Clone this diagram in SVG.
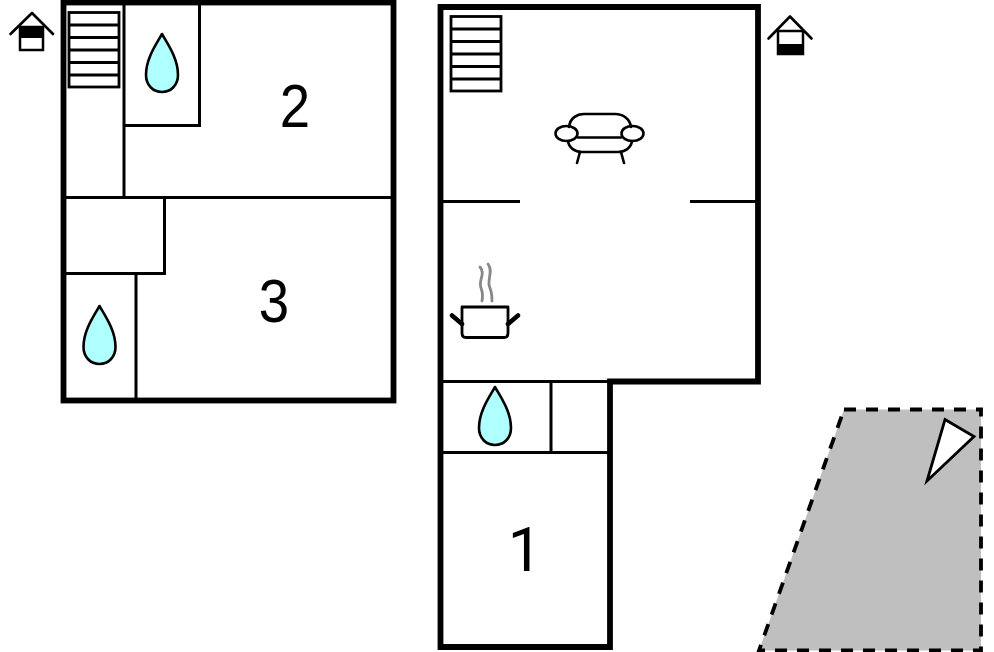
<svg xmlns="http://www.w3.org/2000/svg" width="994" height="652" viewBox="0 0 994 652">
<style>
.wall{fill:none;stroke:#000;stroke-width:5.800;stroke-linejoin:miter}
.in{fill:none;stroke:#000;stroke-width:3}
.thin{fill:none;stroke:#000;stroke-width:2.800}
.sym{fill:none;stroke:#000;stroke-width:2.600;stroke-linejoin:round;stroke-linecap:round}
.drop{fill:#b0ffff;stroke:#000;stroke-width:2.600;stroke-linejoin:round}
.num{font-family:"Liberation Sans",Arial,sans-serif;font-size:62px;fill:#000;text-anchor:middle}
.num1{font-family:Roboto,"Liberation Sans",sans-serif;font-size:61px;fill:#000;text-anchor:middle}
</style>
<defs>
<path id="drop" d="M0 0C5 9 16 24 16 41C16 51 9 58 0 58C-9 58 -16 51 -16 41C-16 24 -5 9 0 0Z"/>
<g id="stairs">
<rect x="0" y="0" width="50" height="74.500" class="thin"/>
<path d="M0 12.500H50M0 25H50M0 37.500H50M0 50H50M0 62.500H50" class="thin"/>
</g>
</defs>
<g id="terrain">
<path d="M844 409.500H981V650.500H759Z" fill="#bfbfbf" stroke="#000" stroke-width="3.800" stroke-dasharray="12 10"/>
<path d="M945 419.500L974 436.500L927 481Z" fill="#fff" stroke="#000" stroke-width="2.800" stroke-linejoin="miter"/>
</g>
<g id="floor-upper">
<rect x="63.500" y="2.500" width="330" height="398" class="wall"/>
<path d="M124 3V197M124 125.500H199.500V3M64 197.500H392M64 273.500H164.500V197.500M136 273.500V400" class="in"/>
<use href="#stairs" x="69" y="12.500"/>
<use href="#drop" x="162" y="34" class="drop"/>
<use href="#drop" x="99.500" y="306" class="drop"/>
<text class="num" transform="translate(295 127) scale(.88 1)">2</text>
<text class="num" transform="translate(274 321.500) scale(.88 1)">3</text>
</g>
<g id="floor-ground">
<path d="M440.500 7H758V381.500H610V647H440.500Z" class="wall"/>
<path d="M441 201.500H520M690 201.500H757M441 381.500H610M441 452.500H610M551 381.500V452.500" class="in"/>
<use href="#stairs" x="451" y="16.500"/>
<use href="#drop" x="495" y="387" class="drop"/>
<text class="num1" x="525" y="571">1</text>
</g>
<g id="sofa" class="sym">
<path d="M569 127C570 118 577 114 584 114H615C623 114 630 119 631 127"/>
<path d="M578 137.500H621"/>
<path d="M568 141C569 148 575 152 582 152H618C625 152 631 148 632 141"/>
<path d="M580 152L577 163M621 152L624 163"/>
<ellipse cx="566.500" cy="133.500" rx="11" ry="7.500"/>
<ellipse cx="632.500" cy="133.500" rx="11" ry="7.500"/>
</g>
<g id="pot">
<path d="M462 307H508V333Q508 337.500 504 337.500H466Q462 337.500 462 333Z" class="thin" stroke-linejoin="round"/>
<path d="M462 324L452 315.500M508 324L518 315.500" fill="none" stroke="#000" stroke-width="4.500" stroke-linecap="round"/>
<path d="M480 267C486 274 478 280 481 288C483 293 483 296 482 301M488 264C494 272 486 280 490 288C492 293 492 297 492 301" fill="none" stroke="#888" stroke-width="2.800" stroke-linecap="round"/>
</g>
<g id="house-left">
<path d="M10.500 34L32 13L53 34" class="sym"/>
<rect x="20" y="27" width="23" height="23" fill="#fff" stroke="#000" stroke-width="2.500"/>
<rect x="20" y="27" width="23" height="11" fill="#000"/>
</g>
<g id="house-right">
<path d="M768.500 38.500L790 16.500L811.500 38.500" class="sym"/>
<rect x="778" y="31" width="25" height="23" fill="#fff" stroke="#000" stroke-width="2.500"/>
<rect x="778" y="44" width="25" height="10" fill="#000"/>
</g>
</svg>
